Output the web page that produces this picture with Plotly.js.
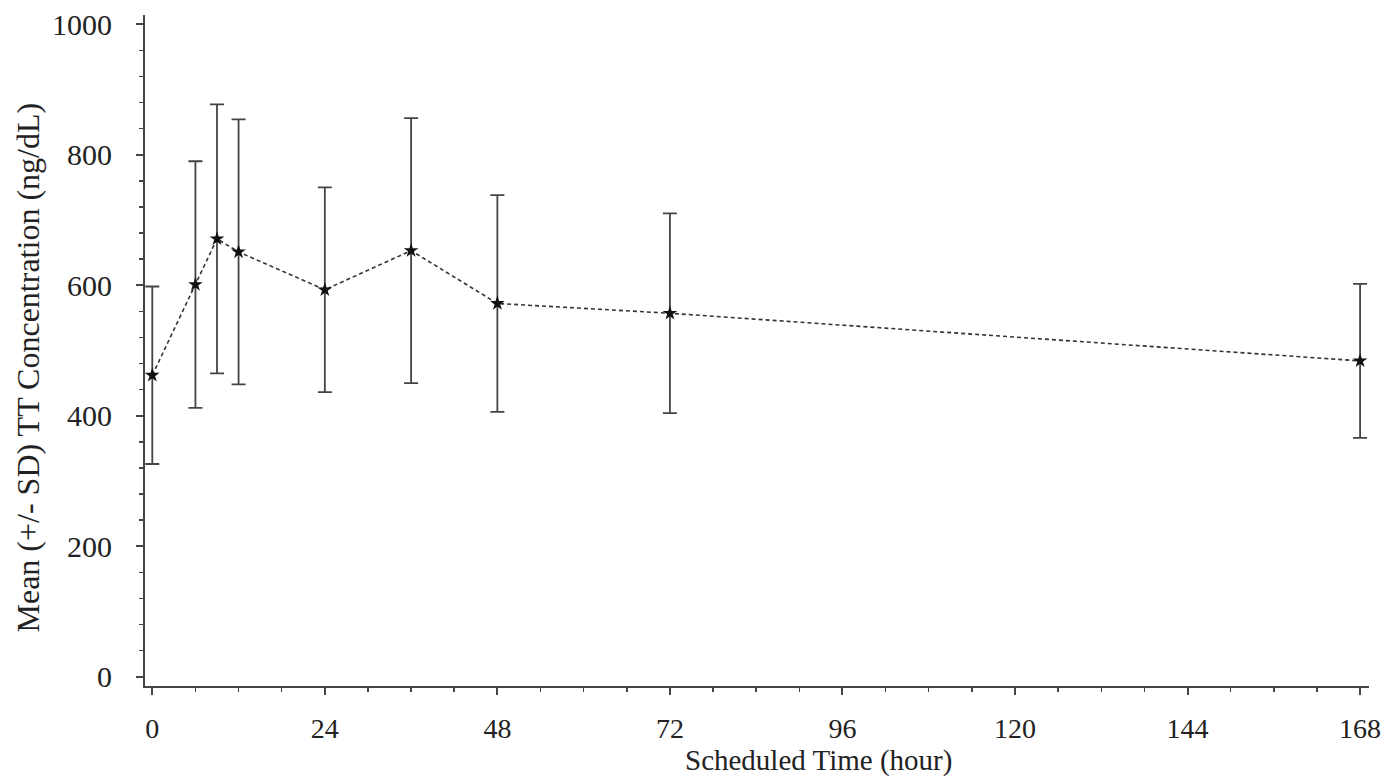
<!DOCTYPE html>
<html>
<head>
<meta charset="utf-8">
<script src="https://cdn.plot.ly/plotly-3.0.1.min.js"></script>
<style>
html,body{margin:0;padding:0;background:#fff;}
#chart{width:1390px;height:778px;}
</style>
</head>
<body>
<div id="chart"></div>
<script>
// Scheduled time (hour)
var timeHours = [0, 6, 9, 12, 24, 36, 48, 72, 168];
// Mean TT concentration (ng/dL)
var meanConc = [462, 601, 671, 651, 593, 653, 572, 557, 484];
// Standard deviation (ng/dL)
var sdConc = [136, 189, 206, 203, 157, 203, 166, 153, 118];
// Tick labels
var xTickVals = [0, 24, 48, 72, 96, 120, 144, 168];
var yTickVals = [0, 200, 400, 600, 800, 1000];

var fontFam = '"Liberation Serif", "Times New Roman", Times, serif';
var ink = '#222';

var trace = {
  x: timeHours,
  y: meanConc,
  type: 'scatter',
  mode: 'lines+markers',
  line: {color: '#333', width: 1.6, dash: '4px,3px'},
  marker: {symbol: 'star', size: 11, color: '#111', line: {width: 0}},
  error_y: {type: 'data', array: sdConc, visible: true, color: '#444', thickness: 1.8, width: 7},
  hoverinfo: 'x+y'
};

var axisCommon = {
  showgrid: false,
  zeroline: false,
  showline: true,
  linecolor: '#444',
  linewidth: 2,
  ticks: 'outside',
  ticklen: 7,
  tickwidth: 2,
  tickcolor: '#444',
  tickfont: {family: fontFam, size: 30, color: ink},
  fixedrange: true
};

var layout = {
  width: 1390,
  height: 778,
  margin: {l: 145, r: 21, t: 15, b: 92, pad: 0},
  paper_bgcolor: '#fff',
  plot_bgcolor: '#fff',
  showlegend: false,
  xaxis: Object.assign({}, axisCommon, {
    range: [-1.015, 169.24],
    tickmode: 'array',
    tickvals: xTickVals,
    ticktext: xTickVals.map(String),
    ticklabelstandoff: 9,
    tickfont: {family: fontFam, size: 28, color: ink},
    minor: {dtick: 6, tick0: 0, ticks: 'outside', ticklen: 4, tickwidth: 1.5, tickcolor: '#444', showgrid: false}
  }),
  yaxis: Object.assign({}, axisCommon, {
    range: [-14.25, 1014.1],
    tickmode: 'array',
    tickvals: yTickVals,
    ticktext: yTickVals.map(String),
    ticklabelstandoff: 18,
    minor: {dtick: 40, tick0: 0, ticks: 'outside', ticklen: 4, tickwidth: 1.5, tickcolor: '#444', showgrid: false}
  }),
  annotations: [
    {
      text: 'Scheduled Time (hour)',
      xref: 'paper', yref: 'paper',
      x: (818 - 145) / 1224, y: (686 - 778) / 671,
      xanchor: 'center', yanchor: 'bottom',
      borderpad: 0,
      showarrow: false,
      font: {family: fontFam, size: 29, color: ink}
    },
    {
      text: 'Mean (+/- SD) TT Concentration (ng/dL)',
      xref: 'paper', yref: 'paper',
      x: (27 - 145) / 1224, y: (686 - 367.5) / 671,
      xanchor: 'center', yanchor: 'middle',
      textangle: -90,
      showarrow: false,
      font: {family: fontFam, size: 32, color: ink}
    }
  ]
};

Plotly.newPlot('chart', [trace], layout, {displayModeBar: false, staticPlot: true});
</script>
</body>
</html>
